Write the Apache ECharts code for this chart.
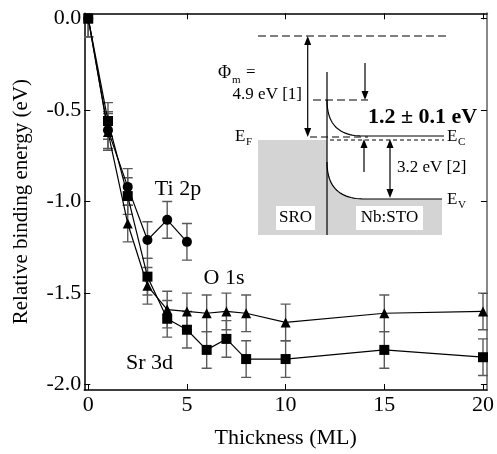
<!DOCTYPE html>
<html>
<head>
<meta charset="utf-8">
<script src="https://cdn.jsdelivr.net/npm/echarts@6/dist/echarts.min.js"></script>
<style>
  html, body { margin: 0; padding: 0; background: #fff; }
  #main { width: 497px; height: 454px; }
</style>
</head>
<body>
<div id="main"></div>
<script>
// thickness in monolayers
const thickness = [0, 1, 2, 3, 4, 5, 6, 7, 8, 10, 15, 20];
const tiThickness = [0, 1, 2, 3, 4, 5];

// relative binding energy shifts (eV)
const sr3d = [0, -0.56, -0.97, -1.41, -1.64, -1.70, -1.81, -1.75, -1.86, -1.86, -1.81, -1.85];
const o1s = [0, -0.62, -1.12, -1.46, -1.59, -1.60, -1.61, -1.60, -1.61, -1.66, -1.61, -1.60];
const ti2p = [0, -0.61, -0.92, -1.21, -1.10, -1.22];

// error bar half widths (eV)
const sr3dErr = [0.1, 0.1, 0.1, 0.1, 0.1, 0.1, 0.1, 0.1, 0.1, 0.1, 0.1, 0.1];
const o1sErr = [0.1, 0.1, 0.1, 0.1, 0.1, 0.1, 0.1, 0.1, 0.1, 0.1, 0.1, 0.1];
const ti2pErr = [0.1, 0.1, 0.1, 0.1, 0.1, 0.1];

const xTicks = [0, 5, 10, 15, 20];
const yTicks = [-2.0, -1.5, -1.0, -0.5, 0.0];

const FONT = "'Liberation Serif', 'Times New Roman', Times, serif";

const chart = echarts.init(document.getElementById("main"));

function pairs(xs, ys) {
  return xs.map((x, i) => [x, ys[i]]);
}
function errData(xs, ys, es) {
  return xs.map((x, i) => [x, ys[i] - es[i], ys[i] + es[i]]);
}

function renderErr(params, api) {
  const x = api.value(0);
  const lo = api.coord([x, api.value(1)]);
  const hi = api.coord([x, api.value(2)]);
  const w = 5;
  const st = { stroke: "#5a5a5a", lineWidth: 1.4 };
  return {
    type: "group",
    children: [
      { type: "line", shape: { x1: lo[0], y1: lo[1], x2: hi[0], y2: hi[1] }, style: st },
      { type: "line", shape: { x1: lo[0] - w, y1: lo[1], x2: lo[0] + w, y2: lo[1] }, style: st },
      { type: "line", shape: { x1: hi[0] - w, y1: hi[1], x2: hi[0] + w, y2: hi[1] }, style: st },
    ],
  };
}

// band bending curve for the inset sketch
function curvePts(x0, y0, x1, y1) {
  const pts = [];
  const c1 = [x0, y0 + 0.7 * (y1 - y0)];
  const c2 = [x0 + 0.35 * (x1 - x0), y1];
  for (let i = 0; i <= 24; i++) {
    const t = i / 24, u = 1 - t;
    pts.push([
      u * u * u * x0 + 3 * u * u * t * c1[0] + 3 * u * t * t * c2[0] + t * t * t * x1,
      u * u * u * y0 + 3 * u * u * t * c1[1] + 3 * u * t * t * c2[1] + t * t * t * y1,
    ]);
  }
  return pts;
}

function arrowHead(x, y, dir) {
  // dir = 1 points down, -1 points up
  return {
    type: "polygon",
    shape: { points: [[x, y], [x - 3.5, y - dir * 9], [x + 3.5, y - dir * 9]] },
    style: { fill: "#000" },
  };
}
function vline(x, y1, y2, dash) {
  return {
    type: "line",
    shape: { x1: x, y1: y1, x2: x, y2: y2 },
    style: { stroke: "#000", lineWidth: 1.2, lineDash: dash || null },
  };
}
function hline(x1, x2, y, dash) {
  return {
    type: "line",
    shape: { x1: x1, y1: y, x2: x2, y2: y },
    style: { stroke: "#000", lineWidth: 1.2, lineDash: dash || null },
  };
}
function txt(x, y, s, size, align, bold) {
  return {
    type: "text",
    x: x,
    y: y,
    style: {
      text: s,
      fill: "#000",
      fontFamily: FONT,
      fontSize: size,
      fontWeight: bold ? "bold" : "normal",
      align: align || "center",
      verticalAlign: "middle",
    },
  };
}

const cbPts = curvePts(327, 100, 363, 136).concat([[444, 136]]);
const vbPts = curvePts(327, 162, 365, 199).concat([[442, 199]]);
const stoFill = curvePts(327, 162, 365, 199).concat([[442, 199], [442, 235], [327, 235]]);

const inset = [
  { type: "rect", shape: { x: 258, y: 140, width: 69, height: 95 }, style: { fill: "#d4d4d4" } },
  { type: "polygon", shape: { points: stoFill }, style: { fill: "#d4d4d4" } },
  { type: "polyline", shape: { points: cbPts }, style: { stroke: "#000", lineWidth: 1.2, fill: null } },
  { type: "polyline", shape: { points: vbPts }, style: { stroke: "#000", lineWidth: 1.2, fill: null } },
  vline(327, 72, 235),
  { type: "rect", shape: { x: 276, y: 206, width: 39, height: 24 }, style: { fill: "#fff" } },
  { type: "rect", shape: { x: 356, y: 206, width: 67, height: 24 }, style: { fill: "#fff" } },
  txt(295.5, 218, "SRO", 17),
  txt(389.5, 218, "Nb:STO", 17),
  // vacuum level and Fermi level markers
  hline(258, 448, 36, [8, 4]),
  hline(313, 368, 100, [8, 4]),
  hline(310, 368, 137, [7, 4]),
  hline(330, 444, 140, [4, 3]),
  // 4.9 eV work function arrow
  vline(307.7, 44, 129),
  arrowHead(307.7, 36, -1),
  arrowHead(307.7, 137, 1),
  // band bending arrows
  vline(365, 63, 92),
  arrowHead(365, 100, 1),
  vline(364, 147, 172),
  arrowHead(364, 139, -1),
  // band gap arrow
  vline(390, 147, 190),
  arrowHead(390, 139, -1),
  arrowHead(390, 198, 1),
  // labels
  txt(218, 73, "Φ", 18, "left"),
  txt(232, 80, "m", 11, "left"),
  txt(246, 73, "=", 17, "left"),
  txt(302, 95, "4.9 eV [1]", 17, "right"),
  txt(235, 137, "E", 17, "left"),
  txt(246, 142, "F", 11, "left"),
  txt(422.5, 117, "1.2 ± 0.1 eV", 22, "center", true),
  txt(447, 137, "E", 17, "left"),
  txt(458, 142, "C", 11, "left"),
  txt(397, 168, "3.2 eV [2]", 17, "left"),
  txt(447, 200, "E", 17, "left"),
  txt(458, 205, "V", 11, "left"),
];

const seriesLabels = [
  txt(178, 189, "Ti 2p", 22),
  txt(224, 278, "O 1s", 22),
  txt(149.5, 363, "Sr 3d", 22),
];

const tickStyle = { inside: true, length: 6, lineStyle: { color: "#000", width: 1 } };

const option = {
  animation: false,
  backgroundColor: "#fff",
  textStyle: { fontFamily: FONT },
  grid: { left: 84.3, right: 8.7, top: 13.3, bottom: 60.7, containLabel: false },
  xAxis: [
    {
      type: "value",
      min: -0.2,
      max: 20.2,
      name: "Thickness (ML)",
      nameLocation: "middle",
      nameGap: 37,
      nameTextStyle: { fontFamily: FONT, fontSize: 22, color: "#000" },
      axisLine: { onZero: false, lineStyle: { color: "#000", width: 1.5 } },
      axisTick: Object.assign({ customValues: xTicks }, tickStyle),
      axisLabel: {
        customValues: xTicks,
        fontFamily: FONT,
        fontSize: 22,
        color: "#000",
        margin: 4,
      },
      splitLine: { show: false },
    },
    {
      type: "value",
      position: "top",
      min: -0.2,
      max: 20.2,
      axisLine: { onZero: false, lineStyle: { color: "#000", width: 1.5 } },
      axisTick: Object.assign({ customValues: xTicks }, tickStyle),
      axisLabel: { show: false },
      splitLine: { show: false },
    },
  ],
  yAxis: [
    {
      type: "value",
      min: -2.029,
      max: 0.028,
      name: "Relative binding energy (eV)",
      nameLocation: "middle",
      nameGap: 52,
      nameTextStyle: { fontFamily: FONT, fontSize: 21, color: "#000" },
      axisLine: { show: true, onZero: false, lineStyle: { color: "#000", width: 1.5 } },
      axisTick: Object.assign({ customValues: yTicks }, tickStyle),
      axisLabel: {
        customValues: yTicks,
        fontFamily: FONT,
        fontSize: 22,
        color: "#000",
        margin: 3,
        formatter: (v) => v.toFixed(1),
      },
      splitLine: { show: false },
    },
    {
      type: "value",
      position: "right",
      min: -2.029,
      max: 0.028,
      axisLine: { show: true, onZero: false, lineStyle: { color: "#888", width: 2 } },
      axisTick: Object.assign({ customValues: yTicks }, tickStyle),
      axisLabel: { show: false },
      splitLine: { show: false },
    },
  ],
  graphic: inset.concat(seriesLabels),
  series: [
    {
      type: "custom",
      name: "Sr 3d err",
      renderItem: renderErr,
      data: errData(thickness, sr3d, sr3dErr),
      clip: true,
      z: 1,
      silent: true,
    },
    {
      type: "custom",
      name: "O 1s err",
      renderItem: renderErr,
      data: errData(thickness, o1s, o1sErr),
      clip: true,
      z: 1,
      silent: true,
    },
    {
      type: "custom",
      name: "Ti 2p err",
      renderItem: renderErr,
      data: errData(tiThickness, ti2p, ti2pErr),
      clip: true,
      z: 1,
      silent: true,
    },
    {
      type: "line",
      name: "O 1s",
      data: pairs(thickness, o1s),
      symbol: "triangle",
      symbolSize: 10,
      itemStyle: { color: "#000" },
      lineStyle: { color: "#000", width: 1.2 },
      z: 3,
    },
    {
      type: "line",
      name: "Ti 2p",
      data: pairs(tiThickness, ti2p),
      symbol: "circle",
      symbolSize: 10,
      itemStyle: { color: "#000" },
      lineStyle: { color: "#000", width: 1.2 },
      z: 3,
    },
    {
      type: "line",
      name: "Sr 3d",
      data: pairs(thickness, sr3d),
      symbol: "rect",
      symbolSize: 10,
      itemStyle: { color: "#000" },
      lineStyle: { color: "#000", width: 1.2 },
      z: 4,
    },
  ],
};

chart.setOption(option);
</script>
</body>
</html>
